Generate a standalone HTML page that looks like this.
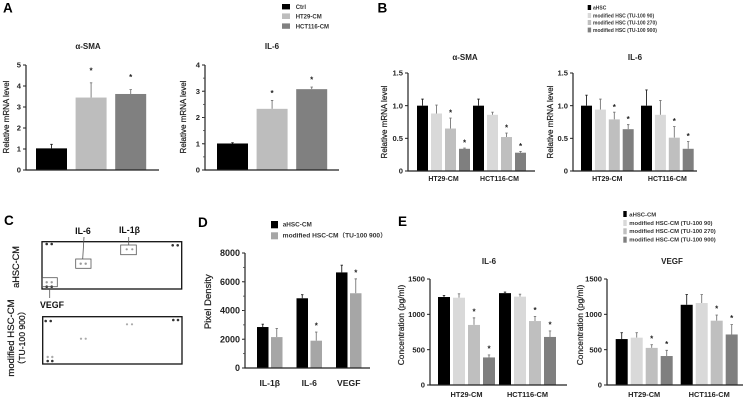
<!DOCTYPE html>
<html lang="en">
<head>
<meta charset="utf-8">
<title>HSC figure panels</title>
<style>
html,body{margin:0;padding:0;background:#fff;}
#figure{display:block;width:745px;height:401px;filter:blur(0.35px);}
text{font-family:"Liberation Sans","Noto Sans CJK SC",sans-serif;fill:#222;}
.panel{font-size:13.5px;font-weight:700;fill:#000;}
.leg{font-weight:700;fill:#333;}
.title{font-size:8px;font-weight:700;text-anchor:middle;}
.cyt{font-size:8.8px;font-weight:700;text-anchor:middle;fill:#111;}
.semi{stroke:#222;stroke-width:.22px;}
</style>
</head>
<body>
<svg id="figure" xmlns="http://www.w3.org/2000/svg" width="745" height="401" viewBox="0 0 745 401">
<rect width="745" height="401" fill="#fff"/>
<text class="panel" x="3" y="12.5">A</text>
<text class="panel" x="377.5" y="12.5">B</text>
<text class="panel" x="4" y="225">C</text>
<text class="panel" x="198" y="227">D</text>
<text class="panel" x="398" y="226">E</text>

<g font-size="6">
<rect x="282" y="4" width="8" height="5.4" fill="#000"/>
<rect x="282" y="13.4" width="8" height="5.6" fill="#bdbdbd"/>
<rect x="282" y="23.4" width="8" height="5.4" fill="#808080"/>
<text class="leg" x="295.7" y="9">Ctrl</text>
<text class="leg" x="295.7" y="18.5">HT29-CM</text>
<text class="leg" x="295.7" y="28.5">HCT116-CM</text>
</g>
<g font-size="5">
<rect x="587.7" y="5" width="3.4" height="5" fill="#000"/>
<rect x="587.7" y="13" width="3.4" height="5" fill="#d9d9d9"/>
<rect x="587.7" y="20" width="3.4" height="5" fill="#bfbfbf"/>
<rect x="587.7" y="27.6" width="3.4" height="4.8" fill="#7f7f7f"/>
<text class="leg" x="593" y="9.5">aHSC</text>
<text class="leg" x="593" y="17.3">modified HSC (TU-100 90)</text>
<text class="leg" x="593" y="24.7">modified HSC (TU-100 270)</text>
<text class="leg" x="593" y="32">modified HSC (TU-100 900)</text>
</g>
<g font-size="6.4">
<rect x="271" y="221" width="7" height="7.3" fill="#000"/>
<rect x="271" y="232.3" width="7" height="7" fill="#a6a6a6"/>
<text class="leg" x="282.7" y="226.7">aHSC-CM</text>
<text class="leg" x="282.7" y="237.7" textLength="104" lengthAdjust="spacingAndGlyphs">modified HSC-CM（TU-100 900）</text>
</g>
<g font-size="5.9">
<rect x="623.3" y="211" width="3.4" height="6" fill="#000"/>
<rect x="623.3" y="220" width="3.4" height="6" fill="#d9d9d9"/>
<rect x="623.3" y="228.3" width="3.4" height="6" fill="#bfbfbf"/>
<rect x="623.3" y="236.7" width="3.4" height="6" fill="#7f7f7f"/>
<text class="leg" x="629.3" y="216.3">aHSC-CM</text>
<text class="leg" x="629.3" y="225">modified HSC-CM (TU-100 90)</text>
<text class="leg" x="629.3" y="233">modified HSC-CM (TU-100 270)</text>
<text class="leg" x="629.3" y="241.3">modified HSC-CM (TU-100 900)</text>
</g>

<g id="panel-c">
<g>
<rect x="42" y="241.7" width="139.7" height="47.3" fill="#fff" stroke="#111" stroke-width="1.3"/>
<g fill="#333"><circle cx="46.7" cy="244" r="1.3"/><circle cx="51.7" cy="244" r="1.3"/><circle cx="172.7" cy="245.3" r="1.3"/><circle cx="177.7" cy="245.3" r="1.3"/><circle cx="46.7" cy="286.7" r="1.3"/><circle cx="51.7" cy="286.7" r="1.3"/></g>
<g fill="#999"><circle cx="46.7" cy="282.3" r="1.2"/><circle cx="51.7" cy="282.3" r="1.2"/><circle cx="80.7" cy="263.7" r="1.2"/><circle cx="85.7" cy="263.7" r="1.2"/><circle cx="126.7" cy="249.3" r="1.1"/><circle cx="132.3" cy="249.3" r="1.1"/></g>
<rect x="42.3" y="277.7" width="15" height="9" fill="none" stroke="#555" stroke-width=".8"/>
<rect x="75.7" y="259" width="15.3" height="9.3" fill="none" stroke="#555" stroke-width=".8"/>
<rect x="120.7" y="245" width="15.6" height="9.7" fill="none" stroke="#555" stroke-width=".8"/>
<path d="M84 237L82.7 259M128.7 237V245M49.7 289V298" stroke="#555" stroke-width=".8" fill="none"/>
</g>
<g>
<rect x="42.7" y="316.7" width="139.3" height="47.3" fill="#fff" stroke="#111" stroke-width="1.3"/>
<g fill="#333"><circle cx="45.7" cy="321" r="1.3"/><circle cx="50.7" cy="321" r="1.3"/><circle cx="173.3" cy="320" r="1.3"/><circle cx="178" cy="320" r="1.3"/><circle cx="47.7" cy="361" r="1.3"/><circle cx="52.3" cy="361" r="1.3"/></g>
<g fill="#aaa"><circle cx="81" cy="338.7" r="1.1"/><circle cx="85.7" cy="338.7" r="1.1"/><circle cx="127" cy="324.3" r="1.1"/><circle cx="132" cy="324.3" r="1.1"/><circle cx="47.7" cy="357" r="1.2"/><circle cx="52.3" cy="357" r="1.2"/></g>
</g>
<text class="cyt" x="83" y="234">IL-6</text>
<text class="cyt" x="129.5" y="233">IL-1β</text>
<text class="cyt" x="52" y="308">VEGF</text>
<text class="cyt semi" transform="translate(19,267) rotate(-90)" style="font-weight:400;font-size:9.2px">aHSC-CM</text>
<text class="cyt semi" transform="translate(14,338) rotate(-90)" style="font-weight:400;font-size:9.6px">modified HSC-CM</text>
<text class="cyt semi" transform="translate(25,338) rotate(-90)" style="font-weight:400;font-size:8.6px">（TU-100 900）</text>
</g>

<g id="charts"></g>
</svg>

<script>
// Panel A, alpha-SMA
const a1Ticks = ['0', '1', '2', '3', '4', '5'];
const a1Values = [1.03, 3.45, 3.62];
const a1Errors = [0.19, 0.70, 0.21];
const a1Stars = [0, 1, 1];
const a1Categories = [];
// Panel A, IL-6
const a2Ticks = ['0', '1', '2', '3', '4'];
const a2Values = [1.01, 2.33, 3.08];
const a2Errors = [0.03, 0.32, 0.08];
const a2Stars = [0, 1, 1];
const a2Categories = [];
// Panel B, alpha-SMA
const b1Ticks = ['0', '0.5', '1.0', '1.5'];
const b1Values = [1.00, 0.88, 0.65, 0.34, 1.00, 0.86, 0.52, 0.28];
const b1Errors = [0.10, 0.13, 0.16, 0.01, 0.10, 0.04, 0.06, 0.02];
const b1Stars = [0, 0, 1, 1, 0, 0, 1, 1];
const b1Categories = ['HT29-CM', 'HCT116-CM'];
// Panel B, IL-6
const b2Ticks = ['0', '0.5', '1.0', '1.5'];
const b2Values = [1.00, 0.94, 0.79, 0.64, 1.00, 0.86, 0.51, 0.34];
const b2Errors = [0.16, 0.16, 0.11, 0.07, 0.24, 0.22, 0.17, 0.11];
const b2Stars = [0, 0, 1, 1, 0, 0, 1, 1];
const b2Categories = ['HT29-CM', 'HCT116-CM'];
// Panel D, pixel density
const dTicks = ['0', '2000', '4000', '6000', '8000'];
const dValues = [2850, 2150, 4850, 1900, 6650, 5200];
const dErrors = [200, 600, 250, 600, 500, 1000];
const dStars = [0, 0, 0, 1, 0, 1];
const dCategories = ['IL-1β', 'IL-6', 'VEGF'];
// Panel E, IL-6
const e1Ticks = ['0', '500', '1000', '1500'];
const e1Values = [1245, 1235, 850, 390, 1300, 1250, 905, 680];
const e1Errors = [20, 55, 100, 35, 15, 35, 65, 85];
const e1Stars = [0, 0, 1, 1, 0, 0, 1, 1];
const e1Categories = ['HT29-CM', 'HCT116-CM'];
// Panel E, VEGF
const e2Ticks = ['0', '500', '1000', '1500'];
const e2Values = [650, 670, 525, 410, 1135, 1160, 910, 715];
const e2Errors = [90, 70, 45, 80, 145, 120, 80, 140];
const e2Stars = [0, 0, 1, 1, 0, 0, 1, 1];
const e2Categories = ['HT29-CM', 'HCT116-CM'];

const colorsA = ['#000000', '#bdbdbd', '#808080'];
const colorsB = ['#000000', '#d9d9d9', '#bfbfbf', '#7f7f7f'];
const colorsD = ['#000000', '#a6a6a6'];

const NS = 'http://www.w3.org/2000/svg';
const root = document.getElementById('charts');

function mk(tag, attrs, parent, txt) {
  const el = document.createElementNS(NS, tag);
  for (const k in attrs) el.setAttribute(k, attrs[k]);
  if (txt !== undefined) el.textContent = txt;
  parent.appendChild(el);
  return el;
}

function drawChart(c) {
  const g = mk('g', {}, root);
  
  
  const yMax = Number(c.ticks[c.ticks.length - 1]);
  const yScale = v => c.y0 - (v / yMax) * (c.y0 - c.yTop);
  const xScale = idx => {
    const grp = Math.floor(idx / c.groupSize);
    return c.start + grp * c.groupStep + (idx % c.groupSize) * c.barStep;
  };

  c.values.forEach((v, i) => {
    const x = xScale(i);
    const color = c.colors[i % c.colors.length];
    const errColor = i % c.colors.length === 0 ? '#222' : '#777';
    const cx = x + c.barW / 2;
    const top = yScale(v + c.errors[i]);
    const err = mk('path', {
      d: 'M' + cx + ' ' + yScale(v) + 'V' + top + 'M' + (cx - 1.2) + ' ' + top + 'H' + (cx + 1.2),
      stroke: errColor, 'stroke-width': 0.9, fill: 'none'
    }, g);
    
    
    const bar = mk('rect', { x: x, y: yScale(v), width: c.barW, height: c.y0 - yScale(v), fill: color }, g);
    
    
    if (c.stars[i]) {
      const star = mk('text', { x: cx, y: top - c.starGap + 4.6, 'text-anchor': 'middle', 'font-size': 8, 'font-weight': 700 }, g, '*');
      
      
    }
  });

  const axis = mk('path', {
    d: 'M' + c.axisX + ' ' + c.yTop + 'V' + c.y0 + 'H' + c.axisEnd,
    stroke: '#222', 'stroke-width': 1.2, fill: 'none'
  }, g);
  
  

  c.ticks.forEach(t => {
    const v = Number(t);
    const y = yScale(v);
    const tick = mk('line', { x1: c.axisX - 3, x2: c.axisX, y1: y, y2: y, stroke: '#222', 'stroke-width': 1 }, g);
    
    
    const lab = mk('text', { x: c.axisX - 5, y: y + c.tickFont * 0.36, 'text-anchor': 'end', 'font-size': c.tickFont, 'font-weight': c.tickWeight }, g, t);
    
    
  });
  if (c.minor) {
    for (let m = c.minor; m < yMax; m += c.minor) {
      const y = yScale(m);
      const mt = mk('line', { x1: c.axisX - 2, x2: c.axisX, y1: y, y2: y, stroke: '#444', 'stroke-width': 0.8 }, g);
      
      
    }
  }

  c.categories.forEach((cat, k) => {
    const first = xScale(k * c.groupSize);
    const last = xScale(k * c.groupSize + c.groupSize - 1) + c.barW;
    const lab = mk('text', { x: (first + last) / 2, y: c.catY, 'text-anchor': 'middle', 'font-size': c.catFont, 'font-weight': 700 }, g, cat);
    
    
  });

  if (c.title) {
    const ti = mk('text', { x: c.titleX, y: c.titleY, class: 'title' }, g, c.title);
    
    
  }
  const yt = mk('text', {
    class: 'semi',
    transform: 'translate(' + c.yTitleX + ',' + c.yTitleY + ') rotate(-90)',
    'text-anchor': 'middle', 'font-size': c.yTitleFont, 'font-weight': c.yTitleWeight
  }, g, c.yTitle);
  
  
}

const common = { tickFont: 7.6, tickWeight: 700, catFont: 7, yTitleFont: 8, yTitleWeight: 400, yTitle: 'Relative mRNA level' };

drawChart(Object.assign({}, common, {
  id: 'a-sma', ticks: a1Ticks, values: a1Values, errors: a1Errors, stars: a1Stars, categories: a1Categories, colors: colorsA,
  axisX: 26, axisEnd: 159, y0: 170, yTop: 65, start: 36, groupSize: 1, groupStep: 39.6, barStep: 0, barW: 31, starGap: 14,
  title: 'α-SMA', titleX: 88, titleY: 49, yTitleX: 9, yTitleY: 117, catY: 0
}));
drawChart(Object.assign({}, common, {
  id: 'a-il6', ticks: a2Ticks, values: a2Values, errors: a2Errors, stars: a2Stars, categories: a2Categories, colors: colorsA,
  axisX: 205, axisEnd: 339, y0: 170, yTop: 65, start: 217, groupSize: 1, groupStep: 39.6, barStep: 0, barW: 31, starGap: 9, minor: 0.5,
  title: 'IL-6', titleX: 272, titleY: 49, yTitleX: 186, yTitleY: 117, catY: 0
}));
drawChart(Object.assign({}, common, {
  id: 'b-sma', ticks: b1Ticks, values: b1Values, errors: b1Errors, stars: b1Stars, categories: b1Categories, colors: colorsB,
  axisX: 408, axisEnd: 535, y0: 171, yTop: 73, start: 417, groupSize: 4, groupStep: 56, barStep: 14, barW: 11, starGap: 7,
  title: 'α-SMA', titleX: 465, titleY: 60, yTitleX: 387, yTitleY: 122, catY: 181
}));
drawChart(Object.assign({}, common, {
  id: 'b-il6', ticks: b2Ticks, values: b2Values, errors: b2Errors, stars: b2Stars, categories: b2Categories, colors: colorsB,
  axisX: 573, axisEnd: 697, y0: 171, yTop: 73, start: 581, groupSize: 4, groupStep: 60, barStep: 13.9, barW: 11, starGap: 7,
  title: 'IL-6', titleX: 635, titleY: 60, yTitleX: 553, yTitleY: 122, catY: 181
}));
drawChart(Object.assign({}, common, {
  id: 'd-pixel-density', ticks: dTicks, values: dValues, errors: dErrors, stars: dStars, categories: dCategories, colors: colorsD,
  axisX: 245, axisEnd: 370, y0: 368, yTop: 253, start: 257, groupSize: 2, groupStep: 39.5, barStep: 14, barW: 11.5, starGap: 8, minor: 1000,
  tickFont: 9, tickWeight: 700, catFont: 8.6, catY: 386, yTitle: 'Pixel  Density', yTitleFont: 9.5, yTitleX: 211, yTitleY: 301.7
}));
drawChart(Object.assign({}, common, {
  id: 'e-il6', ticks: e1Ticks, values: e1Values, errors: e1Errors, stars: e1Stars, categories: e1Categories, colors: colorsB,
  axisX: 430, axisEnd: 567, y0: 385, yTop: 279, start: 438, groupSize: 4, groupStep: 61, barStep: 15, barW: 12, starGap: 8,
  title: 'IL-6', titleX: 489, titleY: 264, catY: 397, catFont: 7.4, yTitleFont: 8.4, yTitle: 'Concentration (pg/ml)', yTitleX: 404, yTitleY: 325
}));
drawChart(Object.assign({}, common, {
  id: 'e-vegf', ticks: e2Ticks, values: e2Values, errors: e2Errors, stars: e2Stars, categories: e2Categories, colors: colorsB,
  axisX: 607, axisEnd: 743, y0: 385, yTop: 279, start: 615.7, groupSize: 4, groupStep: 65, barStep: 15, barW: 12, starGap: 8,
  title: 'VEGF', titleX: 672, titleY: 264, catY: 397, catFont: 7.4, yTitleFont: 8.4, yTitle: 'Concentration (pg/ml)', yTitleX: 583, yTitleY: 325
}));
</script>
</body>
</html>
